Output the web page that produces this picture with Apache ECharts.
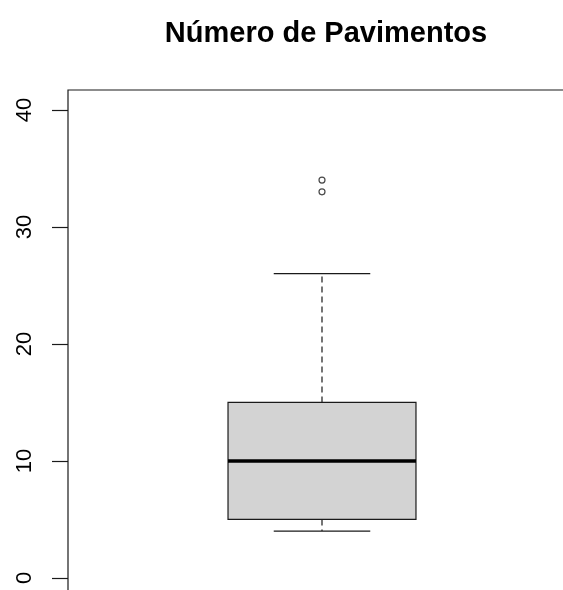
<!DOCTYPE html>
<html>
<head>
<meta charset="utf-8">
<script src="https://cdn.jsdelivr.net/npm/echarts@6/dist/echarts.min.js"></script>
<style>
  html, body { margin: 0; padding: 0; background: #fff; overflow: hidden; }
  /* the plot frame runs past the right and bottom edges, as in the reference */
  #chart { width: 585px; height: 615px; }
</style>
</head>
<body>
<div id="chart"></div>
<script>
// Boxplot data
const categories = ['Pavimentos'];
const lowerWhisker = [4];
const q1 = [5];
const median = [10];
const q3 = [15];
const upperWhisker = [26];
const outliers = [33, 34];
const yTicks = [0, 10, 20, 30, 40];

const font = '"Liberation Sans", Arial, sans-serif';
const ink = '#1a1a1a';

const boxData = categories.map((c, i) =>
    [i, lowerWhisker[i], q1[i], median[i], q3[i], upperWhisker[i]]);
const outlierData = outliers.map(v => [0, v]);

// draws an R style box: grey box, thick median, dashed whiskers, short caps
function renderBox(params, api) {
    const x = api.value(0);
    const band = api.size([1, 0])[0];
    const halfBox = band * 0.185;
    const halfCap = band * 0.095;
    const pLow = api.coord([x, api.value(1)]);
    const pQ1 = api.coord([x, api.value(2)]);
    const pMed = api.coord([x, api.value(3)]);
    const pQ3 = api.coord([x, api.value(4)]);
    const pHigh = api.coord([x, api.value(5)]);
    const cx = pMed[0];
    const dash = { stroke: ink, lineWidth: 1.2, lineDash: [6, 4] };
    const solid = { stroke: ink, lineWidth: 1.2 };
    return {
        type: 'group',
        children: [
            { type: 'line', shape: { x1: cx, y1: pQ3[1], x2: cx, y2: pHigh[1] }, style: dash },
            { type: 'line', shape: { x1: cx, y1: pQ1[1], x2: cx, y2: pLow[1] }, style: dash },
            { type: 'line', shape: { x1: cx - halfCap, y1: pHigh[1], x2: cx + halfCap, y2: pHigh[1] }, style: solid },
            { type: 'line', shape: { x1: cx - halfCap, y1: pLow[1], x2: cx + halfCap, y2: pLow[1] }, style: solid },
            {
                type: 'rect',
                shape: { x: cx - halfBox, y: pQ3[1], width: halfBox * 2, height: pQ1[1] - pQ3[1] },
                style: { fill: '#d3d3d3', stroke: ink, lineWidth: 1.2 }
            },
            { type: 'line', shape: { x1: cx - halfBox, y1: pMed[1], x2: cx + halfBox, y2: pMed[1] }, style: { stroke: '#000', lineWidth: 3.5 } }
        ]
    };
}

const chart = echarts.init(document.getElementById('chart'));
const option = {
    animation: false,
    title: {
        text: 'Número de Pavimentos',
        left: 321,
        textAlign: 'center',
        top: 14,
        textStyle: { fontFamily: font, fontSize: 29, fontWeight: 'bold', color: '#000' }
    },
    grid: {
        left: 68, top: 90, width: 508, height: 519.5,
        show: true, borderColor: ink, borderWidth: 1.2, backgroundColor: 'transparent'
    },
    xAxis: {
        type: 'category',
        data: categories,
        show: false
    },
    yAxis: {
        type: 'value',
        min: -2.7,
        max: 41.7,
        axisLine: { show: false },
        splitLine: { show: false },
        axisTick: {
            show: true, length: 16, customValues: yTicks,
            lineStyle: { color: ink, width: 1.2 }
        },
        axisLabel: {
            customValues: yTicks,
            rotate: 90,
            margin: 32,
            fontFamily: font,
            fontSize: 22,
            color: '#000'
        }
    },
    series: [
        {
            type: 'custom',
            renderItem: renderBox,
            data: boxData,
            encode: { x: 0, y: [1, 2, 3, 4, 5] }
        },
        {
            type: 'scatter',
            data: outlierData,
            symbol: 'circle',
            symbolSize: 6,
            itemStyle: { color: '#fff', borderColor: ink, borderWidth: 1.2 }
        }
    ]
};
chart.setOption(option);
</script>
</body>
</html>
